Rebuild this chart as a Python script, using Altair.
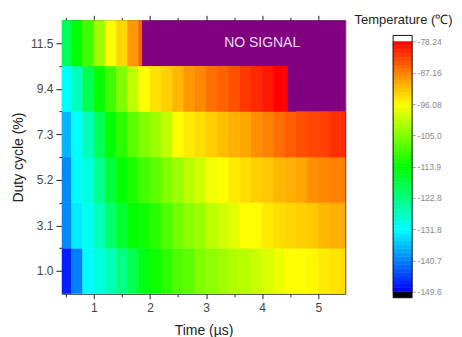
import altair as alt
import pandas as pd

FONT = "Liberation Sans, Arial, sans-serif"

# --- data -----------------------------------------------------------------
times = [0.5, 0.7, 0.9, 1.1, 1.3, 1.5, 1.7, 1.9, 2.1, 2.3, 2.5, 2.7, 2.9,
         3.1, 3.3, 3.5, 3.7, 3.9, 4.1, 4.3, 4.5, 4.7, 4.9, 5.1, 5.3, 5.5]
duty_levels = [1.0, 3.1, 5.2, 7.3, 9.4, 11.5]

temp_1_0 = [-147.4, -140.7, -132.0, -129.7, -126.7, -123.0, -119.5, -115.0, -113.0,
            -111.0, -108.6, -107.5, -105.0, -104.0, -102.8, -101.6, -101.0, -99.9,
            -98.7, -97.5, -96.0, -96.0, -95.6, -94.7, -94.2, -93.7]
temp_3_1 = [-140.0, -133.0, -130.8, -127.0, -121.5, -117.0, -113.9, -113.0, -111.0,
            -108.5, -106.0, -104.0, -103.0, -101.0, -99.3, -98.2, -96.0, -96.0,
            -94.7, -93.7, -93.3, -92.7, -92.2, -91.0, -90.5, -90.3]
temp_5_2 = [-140.0, -132.0, -129.5, -124.0, -118.0, -113.9, -112.0, -109.5, -107.5,
            -105.0, -103.0, -101.0, -99.3, -97.0, -96.0, -94.7, -93.7, -92.7,
            -92.2, -91.0, -90.5, -89.9, -88.3, -87.7, -87.2, -87.0]
temp_7_3 = [-137.0, -131.8, -127.0, -120.0, -113.9, -111.0, -107.5, -105.0, -103.0,
            -100.5, -96.0, -94.7, -93.7, -92.7, -91.6, -90.5, -89.9, -88.3,
            -87.2, -86.0, -84.8, -83.7, -83.2, -82.7, -81.5, -81.0]
temp_9_4 = [-131.8, -127.0, -119.5, -113.9, -109.5, -105.0, -100.5, -96.0, -94.0,
            -92.7, -91.0, -88.8, -87.7, -86.0, -84.9, -83.8, -82.1, -81.0,
            -79.9, -78.24, -78.24, None, None, None, None, None]
temp_11_5 = [-120.0, -113.9, -109.5, -103.0, -96.0, -93.3, -88.8, -84.9,
             None, None, None, None, None, None, None, None, None, None,
             None, None, None, None, None, None, None, None]
temp_rows = [temp_1_0, temp_3_1, temp_5_2, temp_7_3, temp_9_4, temp_11_5]

nosig_duty = [11.5, 9.4]
nosig_start = [1.86, 4.46]
nosig_end = [5.48, 5.48]
nosig_label = ["NO SIGNAL"]
nosig_label_time = [4.0]
nosig_label_duty = [11.5]

stop_temps = [-149.6, -140.7, -131.8, -122.8, -113.9, -105.0, -96.08, -87.16, -78.24]
stop_colors = ["#0000ff", "#0080ff", "#00ffff", "#00ff80", "#00ff00",
               "#80ff00", "#ffff00", "#ff8000", "#ff0000"]
cb_ticks = [-78.24, -87.16, -96.08, -105.0, -113.9, -122.8, -131.8, -140.7, -149.6]
cb_bar_top = [-76.5]
cb_bar_bottom = [-151.3]
cb_view_top = -72.2

x_all = [0.5, 1, 1.5, 2, 2.5, 3, 3.5, 4, 4.5, 5]
y_major = [1.0, 3.1, 5.2, 7.3, 9.4, 11.5]
y_minor = [2.05, 4.15, 6.25, 8.35, 10.45]

# --- tables -----------------------------------------------------------------
rows = []
for d, vals in zip(duty_levels, temp_rows):
    for t, v in zip(times, vals):
        if v is not None:
            rows.append({"time": t, "duty": d, "temp": v})
df = pd.DataFrame(rows)
nsdf = pd.DataFrame({"duty": nosig_duty, "start": nosig_start, "end": nosig_end})
lbl = pd.DataFrame({"time": nosig_label_time, "duty": nosig_label_duty, "label": nosig_label})

color_scale = alt.Scale(domain=stop_temps, range=stop_colors, interpolate="rgb", clamp=True)
x_scale = alt.Scale(domain=[0.43, 5.48], nice=False, zero=False)
y_scale = alt.Scale(domain=[-0.05, 12.55], nice=False, zero=False)

x_tick_size = {"condition": {"test": "datum.value % 1 === 0", "value": 5}, "value": 3}
y_is_major = "indexof([1, 3.1, 5.2, 7.3, 9.4, 11.5], datum.value) >= 0"

x_axis_bottom = alt.Axis(values=x_all,
                         labelExpr="datum.value % 1 === 0 ? format(datum.value, 'd') : ''",
                         tickSize=x_tick_size, title="Time (µs)", grid=False, domain=False,
                         labelPadding=4, titlePadding=10)
x_axis_top = alt.Axis(orient="top", values=x_all, labels=False, tickSize=x_tick_size,
                      title=None, grid=False, domain=False)
y_axis = alt.Axis(values=y_major + y_minor,
                  labelExpr=f"{y_is_major} ? format(datum.value, '.1f') : ''",
                  tickSize={"condition": {"test": y_is_major, "value": 6}, "value": 3},
                  title="Duty cycle (%)", grid=False, domain=False,
                  labelPadding=3, titlePadding=5)

heat = alt.Chart(df).transform_calculate(
    t0="datum.time - 0.1", t1="datum.time + 0.1",
    d0="datum.duty - 1.05", d1="datum.duty + 1.05",
).mark_rect(clip=True, strokeWidth=0.6).encode(
    x=alt.X("t0:Q", scale=x_scale, axis=x_axis_bottom),
    x2="t1:Q",
    y=alt.Y("d0:Q", scale=y_scale, axis=y_axis),
    y2="d1:Q",
    color=alt.Color("temp:Q", scale=color_scale, legend=None),
    stroke=alt.Stroke("temp:Q", scale=color_scale, legend=None),
)

ns = alt.Chart(nsdf).transform_calculate(
    d0="datum.duty - 1.05", d1="datum.duty + 1.05",
).mark_rect(color="#800080", clip=True).encode(
    x=alt.X("start:Q", scale=x_scale, axis=x_axis_top),
    x2="end:Q",
    y=alt.Y("d0:Q", scale=y_scale, axis=y_axis),
    y2="d1:Q",
)

txt = alt.Chart(lbl).mark_text(color="#ecdcf2", fontSize=14, font=FONT).encode(
    x=alt.X("time:Q", scale=x_scale, axis=x_axis_top),
    y=alt.Y("duty:Q", scale=y_scale, axis=y_axis),
    text="label:N",
)

main = alt.layer(heat, alt.layer(ns, txt)).resolve_axis(x="independent").properties(
    width=284, height=274)

# --- colour bar ---------------------------------------------------------------
cb_scale = alt.Scale(domain=[cb_bar_bottom[0], cb_view_top], nice=False, zero=False)
cb_axis = alt.Axis(orient="right", values=cb_ticks, format=".4g",
                   tickSize=3, tickColor="#999", labelColor="#888", labelFontSize=8.5,
                   labelPadding=2, domain=False, grid=False, title=None)

step = (stop_temps[-1] - stop_temps[0]) / 64
bands = alt.Chart(alt.sequence(stop_temps[0], stop_temps[-1], step, as_="v")).transform_calculate(
    v2=f"min(datum.v + {step}, {stop_temps[-1]})", vm=f"datum.v + {step / 2}"
).mark_rect(strokeWidth=0.5).encode(
    y=alt.Y("v:Q", scale=cb_scale, axis=cb_axis),
    y2="v2:Q",
    color=alt.Color("vm:Q", scale=color_scale, legend=None),
    stroke=alt.Stroke("vm:Q", scale=color_scale, legend=None),
)
cap = alt.Chart(pd.DataFrame({"lo": cb_bar_bottom, "hi": [stop_temps[0]]})).mark_rect(color="black").encode(
    y=alt.Y("lo:Q", scale=cb_scale, axis=cb_axis),
    y2="hi:Q",
)
frame = alt.Chart(pd.DataFrame({"lo": cb_bar_bottom, "hi": cb_bar_top})).mark_rect(
    fill="transparent", stroke="#111", strokeWidth=1
).encode(
    y=alt.Y("lo:Q", scale=cb_scale, axis=cb_axis),
    y2="hi:Q",
)
cb = alt.layer(bands, cap, frame).properties(
    width=19, height=278,
    view=alt.ViewConfig(stroke="transparent"),
    title=alt.TitleParams("Temperature (℃)", fontSize=13, fontWeight="normal", font=FONT,
                          color="#222", offset=-7, dx=1),
)

chart = alt.hconcat(main, cb, spacing=7).configure(
    padding={"left": 3, "top": 5, "right": 0, "bottom": 0}, font=FONT,
    locale={"number": {"decimal": ".", "thousands": ",", "grouping": [3],
                       "currency": ["$", ""], "minus": "-"}},
).configure_view(stroke="#222", strokeWidth=1).configure_axis(
    labelFont=FONT, titleFont=FONT, labelFontSize=12, titleFontSize=14,
    titleFontWeight="normal", labelColor="#444", titleColor="#222", tickColor="#222",
)

chart.save("out.html", embed_options={"renderer": "svg", "actions": False})
